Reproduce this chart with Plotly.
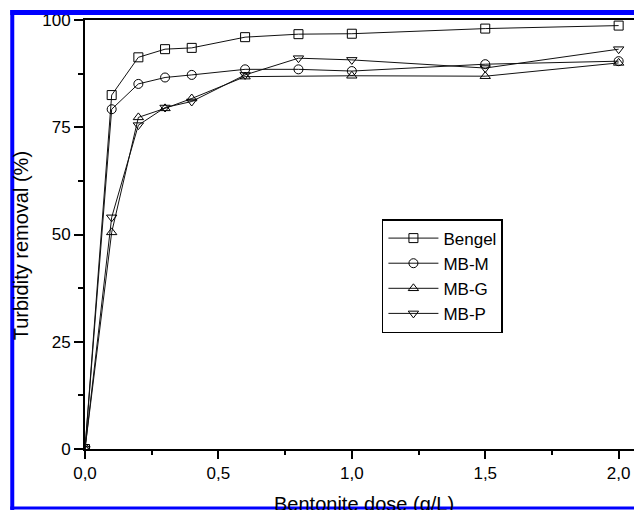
import plotly.graph_objects as go

dose = [0.0, 0.1, 0.2, 0.3, 0.4, 0.6, 0.8, 1.0, 1.5, 2.0]
bengel = [0, 82.5, 91.3, 93.2, 93.5, 96.0, 96.7, 96.8, 98.0, 98.7]
mb_m = [0, 79.2, 85.1, 86.6, 87.2, 88.5, 88.5, 88.1, 89.7, 90.4]
dose_g = [0.0, 0.1, 0.2, 0.3, 0.4, 0.6, 1.0, 1.5, 2.0]
mb_g = [0, 50.5, 77.3, 79.4, 81.7, 86.8, 87.0, 86.9, 90.0]
mb_p = [0, 54.0, 75.5, 79.6, 81.0, 87.2, 91.1, 90.7, 88.8, 93.2]

x_ticks = [0.0, 0.5, 1.0, 1.5, 2.0]
y_ticks = [0, 25, 50, 75, 100]

FONT = "Arial, Liberation Sans, sans-serif"

fig = go.Figure()
series = [
    ("Bengel", dose, bengel, "square-open"),
    ("MB-M", dose, mb_m, "circle-open"),
    ("MB-G", dose_g, mb_g, "triangle-up-open"),
    ("MB-P", dose, mb_p, "triangle-down-open"),
]
for name, xs, ys, sym in series:
    fig.add_trace(go.Scatter(
        x=xs, y=ys, name=name, mode="lines+markers",
        line=dict(color="#111111", width=1),
        marker=dict(symbol=sym, size=9, color="black", line=dict(width=1, color="black")),
    ))

# page is offset by the 8px body margin: figure is 634x502 inside the 642x510 window
fig.update_layout(
    width=634, height=502,
    margin=dict(l=77, r=0, t=12, b=61),
    plot_bgcolor="white", paper_bgcolor="white",
    separators=",.",
    font=dict(family=FONT, size=17, color="black"),
    showlegend=True,
    legend=dict(
        x=0.535, y=0.536, xanchor="left", yanchor="top",
        bordercolor="black", borderwidth=1.5, bgcolor="white",
        font=dict(family=FONT, size=17, color="black"),
        itemwidth=50, tracegroupgap=0,
    ),
)
fig.update_xaxes(
    range=[0, 2.08], tickvals=x_ticks, tickformat=".1f",
    showgrid=False, zeroline=False,
    showline=True, linecolor="black", linewidth=2, mirror=True,
    ticks="outside", ticklen=8, tickwidth=2, tickcolor="black",
    minor=dict(dtick=0.25, ticks="outside", ticklen=4, tickwidth=2, tickcolor="black"),
    tickfont=dict(family=FONT, size=17, color="black"),
)
fig.update_yaxes(
    range=[0, 100], tickvals=y_ticks,
    showgrid=False, zeroline=False,
    showline=True, linecolor="black", linewidth=2, mirror=True,
    ticks="outside", ticklen=9, tickwidth=1.5, tickcolor="black",
    minor=dict(dtick=12.5, ticks="outside", ticklen=5, tickwidth=1.5, tickcolor="black"),
    tickfont=dict(family=FONT, size=17, color="black"),
)

fig.add_annotation(text="Bentonite dose (g/L)", xref="paper", yref="paper",
                   x=0.503, y=-0.128, xanchor="center", yanchor="middle",
                   showarrow=False, font=dict(family=FONT, size=20, color="black"))
fig.add_annotation(text="Turbidity removal (%)", xref="paper", yref="paper",
                   x=-0.115, y=0.473, xanchor="center", yanchor="middle",
                   textangle=-90, showarrow=False,
                   font=dict(family=FONT, size=20, color="black"))

# blue frame around the figure (positions given in page pixels)
blue = "#0000FF"
def px_x(p):
    return (p - 85) / 557
def px_y(p):
    return (449 - p) / 429
fig.add_shape(type="line", xref="paper", yref="paper", x0=px_x(10), x1=px_x(642),
              y0=px_y(12.5), y1=px_y(12.5), line=dict(color=blue, width=5), layer="above")
fig.add_shape(type="line", xref="paper", yref="paper", x0=px_x(12), x1=px_x(12),
              y0=px_y(10), y1=px_y(510), line=dict(color=blue, width=4), layer="above")
fig.add_shape(type="line", xref="paper", yref="paper", x0=px_x(641), x1=px_x(641),
              y0=px_y(10), y1=px_y(510), line=dict(color=blue, width=2), layer="above")
fig.add_shape(type="line", xref="paper", yref="paper", x0=px_x(10), x1=px_x(642),
              y0=px_y(508), y1=px_y(508), line=dict(color=blue, width=3), layer="above")

fig.write_html("out.html")
